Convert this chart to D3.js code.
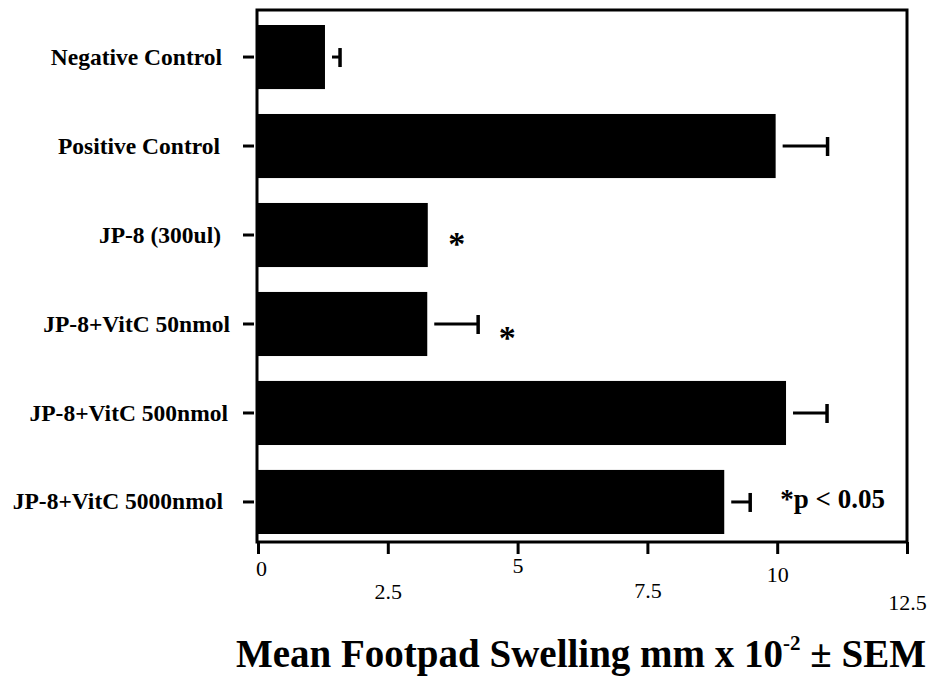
<!DOCTYPE html>
<html>
<head>
<meta charset="utf-8">
<script src="https://cdn.jsdelivr.net/npm/d3@7"></script>
<style>
  html, body { margin: 0; padding: 0; background: #fff; }
  svg { display: block; }
  text { font-family: "Liberation Serif", "Times New Roman", serif; fill: #000; }
</style>
</head>
<body>
<script>
// Treatment groups, top to bottom
const categories = [
  "Negative Control",
  "Positive Control",
  "JP-8 (300ul)",
  "JP-8+VitC 50nmol",
  "JP-8+VitC 500nmol",
  "JP-8+VitC 5000nmol"
];
// Mean footpad swelling (mm x 10^-2)
const means = [1.29, 9.97, 3.27, 3.26, 10.17, 8.98];
// Standard error of the mean
const sems = [0.29, 1.0, 0, 0.98, 0.79, 0.5];
// Groups marked significant (p < 0.05)
const significant = [false, false, true, true, false, false];
// X axis ticks
const tickValues = [0, 2.5, 5, 7.5, 10, 12.5];
const tickLabels = ["0", "2.5", "5", "7.5", "10", "12.5"];

// Staggered baseline offsets for the x tick labels (layout only)
const tickLabelDy = [34, 57, 31, 56, 40, 68];
// Right edge of each category label (layout only)
const labelRight = [222, 220, 221, 230, 228, 223];

const W = 929, H = 681;
const frame = { left: 257, right: 907, top: 10, bottom: 542 };

const svg = d3.select("body").append("svg")
  .attr("width", W).attr("height", H);

const x = d3.scaleLinear().domain([0, 12.5]).range([258, 907]);
const y = d3.scaleBand().domain(categories).range([25, 534])
  .paddingInner(0.28).paddingOuter(0);

const rows = categories.map((c, i) => ({
  cat: c, mean: means[i], sem: sems[i], sig: significant[i]
}));

// Bars
svg.append("g").selectAll("rect").data(rows).join("rect")
  .attr("x", x(0))
  .attr("y", d => y(d.cat))
  .attr("width", d => x(d.mean) - x(0))
  .attr("height", y.bandwidth())
  .attr("fill", "#000");

// Error bars (upper side only)
const eb = svg.append("g").selectAll("g").data(rows.filter(d => d.sem > 0)).join("g");
eb.append("line")
  .attr("x1", d => x(d.mean) + 7)
  .attr("x2", d => x(d.mean + d.sem))
  .attr("y1", d => y(d.cat) + y.bandwidth() / 2)
  .attr("y2", d => y(d.cat) + y.bandwidth() / 2)
  .attr("stroke", "#000").attr("stroke-width", 3);
eb.append("line")
  .attr("x1", d => x(d.mean + d.sem))
  .attr("x2", d => x(d.mean + d.sem))
  .attr("y1", d => y(d.cat) + y.bandwidth() / 2 - 9)
  .attr("y2", d => y(d.cat) + y.bandwidth() / 2 + 10)
  .attr("stroke", "#000").attr("stroke-width", 3.5);

// Significance asterisks
svg.append("g").selectAll("text").data(rows.filter(d => d.sig)).join("text")
  .attr("x", d => x(d.mean + d.sem) + 29)
  .attr("y", (d, i) => y(d.cat) + y.bandwidth() / 2 + 20 + i * 5)
  .attr("text-anchor", "middle")
  .attr("font-size", 34).attr("font-weight", "bold")
  .text("*");

// Plot frame
svg.append("rect")
  .attr("x", frame.left).attr("y", frame.top)
  .attr("width", frame.right - frame.left)
  .attr("height", frame.bottom - frame.top)
  .attr("fill", "none").attr("stroke", "#000").attr("stroke-width", 3);

// Y axis: outward ticks and category labels
const yAxis = svg.append("g")
  .attr("transform", `translate(${frame.left - 3},0)`)
  .call(d3.axisLeft(y).tickSize(11).tickPadding(18));
yAxis.select(".domain").remove();
yAxis.selectAll(".tick line").attr("stroke", "#000").attr("stroke-width", 3);
yAxis.selectAll(".tick text")
  .attr("font-family", "Liberation Serif, Times New Roman, serif")
  .attr("font-weight", "bold").attr("font-size", 23.5).attr("fill", "#000")
  .attr("x", (d, i) => labelRight[i] - (frame.left - 3));

// X axis: ticks hanging below the frame, labels staggered
const xAxis = svg.append("g")
  .attr("transform", `translate(0,${frame.bottom})`)
  .call(d3.axisBottom(x).tickValues(tickValues)
    .tickFormat((d, i) => tickLabels[i]).tickSize(12));
xAxis.select(".domain").remove();
xAxis.selectAll(".tick line").attr("stroke", "#000").attr("stroke-width", 3);
xAxis.selectAll(".tick text")
  .attr("font-family", "Liberation Serif, Times New Roman, serif")
  .attr("font-size", 22).attr("fill", "#000")
  .attr("y", (d, i) => tickLabelDy[i]).attr("dy", null)
  .attr("dx", (d, i) => i === 0 ? 3 : 0);

// Significance note
svg.append("text")
  .attr("x", 885).attr("y", y(categories[5]) + y.bandwidth() / 2 + 6)
  .attr("text-anchor", "end")
  .attr("font-size", 27).attr("font-weight", "bold")
  .text("*p < 0.05");

// Axis title
const title = svg.append("text")
  .attr("x", 926).attr("y", 667)
  .attr("text-anchor", "end")
  .attr("font-size", 39).attr("font-weight", "bold");
title.append("tspan").text("Mean Footpad Swelling mm x 10");
title.append("tspan").attr("font-size", 21).attr("dy", -17).text("-2");
title.append("tspan").attr("dy", 17).text(" \u00B1 SEM");
</script>
</body>
</html>
